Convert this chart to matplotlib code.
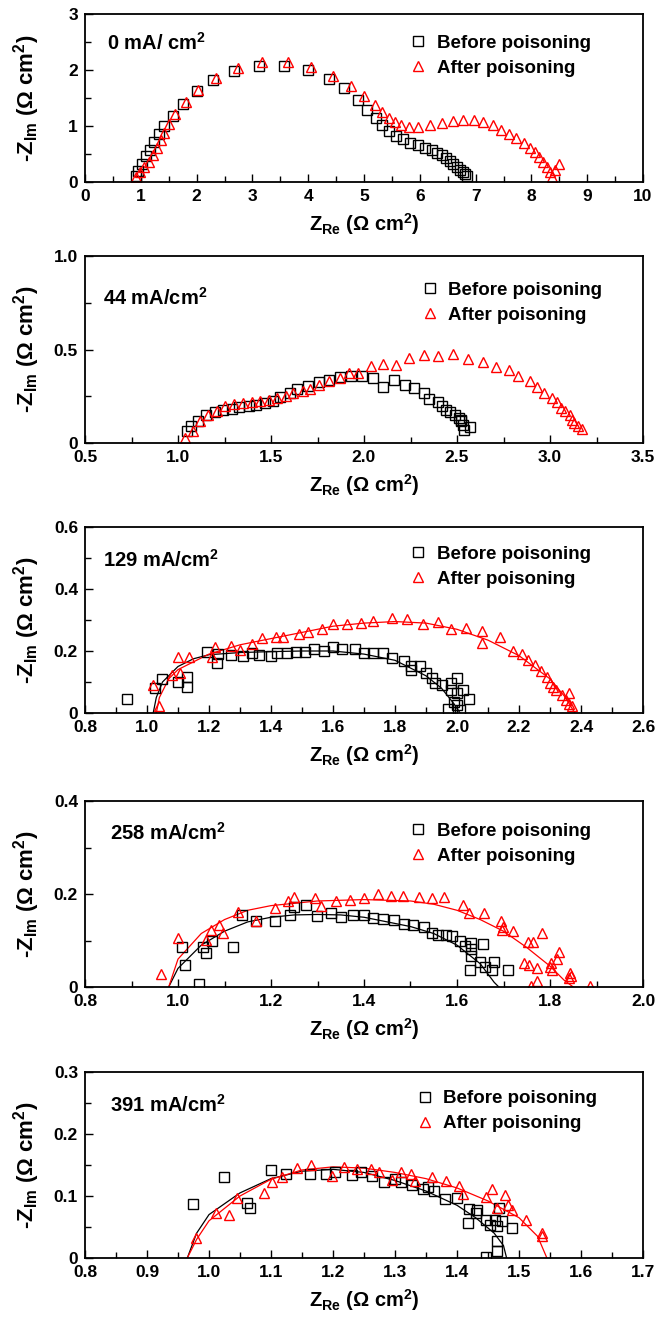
import matplotlib
matplotlib.use('Agg')
import matplotlib.pyplot as plt
from matplotlib.ticker import MultipleLocator

plt.rcParams['font.family'] = ['Liberation Sans', 'DejaVu Sans']
plt.rcParams['font.weight'] = 'bold'
plt.rcParams['mathtext.default'] = 'regular'

# ---- panel 1 : 0 mA/cm2 ----
p1_before_x = [0.91, 0.95, 1.02, 1.10, 1.16, 1.23, 1.32, 1.42, 1.57, 1.75, 2.00, 2.30, 2.67, 3.12, 3.57,
               4.00, 4.37, 4.65, 4.90, 5.06, 5.21, 5.33, 5.44, 5.57, 5.70, 5.83, 5.96, 6.10, 6.21, 6.31,
               6.39, 6.47, 6.54, 6.60, 6.67, 6.72, 6.77, 6.81, 6.84]
p1_before_y = [0.11, 0.20, 0.33, 0.46, 0.57, 0.72, 0.85, 1.00, 1.17, 1.40, 1.63, 1.82, 1.99, 2.08, 2.08,
               2.00, 1.84, 1.67, 1.46, 1.29, 1.15, 1.01, 0.91, 0.82, 0.76, 0.70, 0.66, 0.61, 0.57, 0.52,
               0.48, 0.43, 0.38, 0.32, 0.27, 0.22, 0.18, 0.14, 0.11]
p1_after_x = [0.91, 0.99, 1.06, 1.14, 1.21, 1.29, 1.36, 1.42, 1.50, 1.62, 1.81, 2.03, 2.35, 2.74, 3.18, 3.63,
              4.05, 4.44, 4.76, 5.00, 5.19, 5.33, 5.44, 5.55, 5.66, 5.81, 5.96, 6.19, 6.39, 6.60, 6.78,
              6.97, 7.14, 7.31, 7.46, 7.59, 7.73, 7.87, 7.97, 8.06, 8.13, 8.21, 8.28, 8.34, 8.37, 8.43, 8.49]
p1_after_y = [0.09, 0.18, 0.27, 0.36, 0.48, 0.61, 0.75, 0.88, 1.03, 1.22, 1.42, 1.65, 1.85, 2.03, 2.14, 2.15,
              2.06, 1.90, 1.71, 1.54, 1.37, 1.25, 1.14, 1.07, 1.01, 0.98, 0.98, 1.01, 1.06, 1.09, 1.10,
              1.10, 1.07, 1.01, 0.92, 0.85, 0.78, 0.69, 0.61, 0.54, 0.45, 0.36, 0.27, 0.18, 0.09, 0.22, 0.32]

# ---- panel 2 : 44 mA/cm2 ----
p2_before_x = [1.046, 1.07, 1.11, 1.15, 1.20, 1.24, 1.29, 1.33, 1.38, 1.42, 1.47, 1.51, 1.55, 1.60, 1.64,
               1.70, 1.76, 1.81, 1.87, 1.93, 1.99, 2.05, 2.10, 2.16, 2.22, 2.27, 2.32, 2.35, 2.40, 2.42,
               2.44, 2.46, 2.49, 2.51, 2.52, 2.53, 2.54, 2.57, 2.52]
p2_before_y = [0.062, 0.089, 0.116, 0.151, 0.164, 0.174, 0.181, 0.190, 0.196, 0.205, 0.214, 0.226, 0.244,
               0.270, 0.288, 0.306, 0.324, 0.338, 0.352, 0.359, 0.356, 0.347, 0.302, 0.338, 0.308, 0.294,
               0.267, 0.237, 0.217, 0.196, 0.178, 0.164, 0.151, 0.133, 0.116, 0.098, 0.071, 0.085, 0.125]
p2_after_x = [1.04, 1.08, 1.12, 1.16, 1.21, 1.25, 1.30, 1.35, 1.40, 1.44, 1.49, 1.53, 1.58, 1.62, 1.67,
              1.71, 1.76, 1.81, 1.87, 1.92, 1.97, 2.04, 2.10, 2.17, 2.24, 2.32, 2.40, 2.48, 2.56, 2.64,
              2.71, 2.78, 2.83, 2.89, 2.93, 2.97, 3.01, 3.04, 3.06, 3.08, 3.11, 3.12, 3.13, 3.15, 3.17]
p2_after_y = [0.027, 0.062, 0.116, 0.151, 0.169, 0.196, 0.210, 0.214, 0.217, 0.222, 0.231, 0.240, 0.253,
              0.267, 0.276, 0.288, 0.311, 0.329, 0.347, 0.374, 0.377, 0.413, 0.423, 0.418, 0.454, 0.472,
              0.466, 0.477, 0.450, 0.431, 0.409, 0.388, 0.356, 0.329, 0.302, 0.270, 0.240, 0.217, 0.187,
              0.169, 0.151, 0.125, 0.107, 0.089, 0.075]

# ---- panel 3 : 129 mA/cm2 ----
p3_before_x = [0.935, 1.025, 1.048, 1.10, 1.13, 1.13, 1.195, 1.227, 1.23, 1.27, 1.31, 1.34, 1.36, 1.40,
               1.42, 1.45, 1.48, 1.51, 1.54, 1.57, 1.60, 1.63, 1.67, 1.70, 1.73, 1.76, 1.79, 1.83, 1.85,
               1.85, 1.88, 1.90, 1.92, 1.93, 1.95, 1.98, 2.00, 1.98, 2.00, 2.02, 2.04, 1.99, 2.00, 1.97, 2.01]
p3_before_y = [0.046, 0.080, 0.109, 0.100, 0.115, 0.085, 0.197, 0.160, 0.190, 0.187, 0.184, 0.194, 0.187,
               0.184, 0.194, 0.195, 0.197, 0.197, 0.208, 0.200, 0.213, 0.208, 0.207, 0.192, 0.192, 0.192,
               0.178, 0.168, 0.153, 0.139, 0.152, 0.128, 0.112, 0.096, 0.091, 0.098, 0.112, 0.075, 0.064,
               0.075, 0.046, 0.037, 0.027, 0.014, 0.011]
p3_after_x = [1.02, 1.04, 1.08, 1.106, 1.10, 1.137, 1.21, 1.22, 1.27, 1.30, 1.34, 1.37, 1.415, 1.44, 1.49,
              1.52, 1.565, 1.60, 1.645, 1.69, 1.73, 1.79, 1.84, 1.89, 1.94, 1.98, 2.03, 2.08, 2.08, 2.14,
              2.18, 2.21, 2.23, 2.25, 2.27, 2.29, 2.30, 2.31, 2.32, 2.34, 2.36, 2.35, 2.36, 2.37]
p3_after_y = [0.091, 0.021, 0.123, 0.128, 0.181, 0.181, 0.181, 0.213, 0.217, 0.203, 0.222, 0.242, 0.246,
              0.246, 0.254, 0.262, 0.272, 0.286, 0.286, 0.290, 0.297, 0.306, 0.304, 0.286, 0.294, 0.272,
              0.275, 0.265, 0.226, 0.246, 0.200, 0.190, 0.171, 0.155, 0.137, 0.117, 0.098, 0.085, 0.075,
              0.059, 0.064, 0.043, 0.030, 0.023]
p3_fit_before_x = [1.02, 1.03, 1.05, 1.10, 1.15, 1.20, 1.30, 1.40, 1.50, 1.60, 1.70, 1.80, 1.90, 1.95, 1.99, 2.01]
p3_fit_before_y = [0.0, 0.05, 0.10, 0.15, 0.175, 0.188, 0.195, 0.198, 0.200, 0.200, 0.190, 0.170, 0.120, 0.080, 0.030, 0.0]
p3_fit_after_x = [1.03, 1.04, 1.07, 1.10, 1.20, 1.30, 1.40, 1.50, 1.60, 1.70, 1.80, 1.90, 2.00, 2.10, 2.20, 2.30, 2.35, 2.38]
p3_fit_after_y = [0.0, 0.05, 0.11, 0.14, 0.19, 0.22, 0.24, 0.26, 0.28, 0.29, 0.295, 0.29, 0.27, 0.235, 0.185, 0.11, 0.05, 0.0]

# ---- panel 4 : 258 mA/cm2 ----
p4_before_x = [1.009, 1.016, 1.045, 1.053, 1.06, 1.074, 1.119, 1.137, 1.168, 1.209, 1.24, 1.25, 1.276, 1.30,
               1.33, 1.35, 1.376, 1.40, 1.42, 1.44, 1.465, 1.485, 1.506, 1.528, 1.546, 1.56, 1.577, 1.59,
               1.607, 1.618, 1.63, 1.63, 1.656, 1.627, 1.63, 1.65, 1.66, 1.676, 1.68, 1.71]
p4_before_y = [0.086, 0.048, 0.007, 0.087, 0.074, 0.100, 0.086, 0.155, 0.141, 0.141, 0.154, 0.171, 0.176,
               0.153, 0.159, 0.151, 0.154, 0.154, 0.149, 0.146, 0.144, 0.135, 0.133, 0.130, 0.117, 0.112,
               0.112, 0.109, 0.098, 0.089, 0.082, 0.094, 0.093, 0.037, 0.067, 0.053, 0.044, 0.037, 0.054, 0.037]
p4_after_x = [0.964, 1.00, 1.06, 1.07, 1.088, 1.097, 1.13, 1.168, 1.209, 1.236, 1.249, 1.294, 1.307, 1.34,
              1.37, 1.40, 1.43, 1.459, 1.483, 1.519, 1.546, 1.571, 1.613, 1.625, 1.658, 1.694, 1.697, 1.70,
              1.72, 1.753, 1.764, 1.744, 1.754, 1.772, 1.782, 1.773, 1.76, 1.802, 1.805, 1.80, 1.82, 1.815,
              1.843, 1.845, 1.84, 1.886]
p4_after_y = [0.029, 0.105, 0.101, 0.123, 0.134, 0.116, 0.161, 0.143, 0.169, 0.185, 0.194, 0.192, 0.175,
              0.185, 0.187, 0.192, 0.200, 0.196, 0.196, 0.194, 0.191, 0.193, 0.176, 0.159, 0.159, 0.141,
              0.123, 0.130, 0.121, 0.096, 0.096, 0.051, 0.048, 0.041, 0.116, 0.012, 0.003, 0.051, 0.036,
              0.044, 0.076, 0.060, 0.031, 0.023, 0.019, 0.003]
p4_fit_before_x = [0.98, 1.00, 1.05, 1.10, 1.15, 1.20, 1.25, 1.30, 1.35, 1.40, 1.45, 1.50, 1.55, 1.60, 1.65, 1.68, 1.69]
p4_fit_before_y = [0.0, 0.04, 0.09, 0.12, 0.14, 0.15, 0.155, 0.156, 0.155, 0.15, 0.14, 0.13, 0.115, 0.09, 0.05, 0.01, 0.0]
p4_fit_after_x = [0.98, 1.00, 1.05, 1.10, 1.15, 1.20, 1.30, 1.40, 1.50, 1.55, 1.60, 1.65, 1.70, 1.75, 1.80, 1.83, 1.85]
p4_fit_after_y = [0.0, 0.06, 0.115, 0.145, 0.165, 0.175, 0.185, 0.188, 0.185, 0.178, 0.165, 0.145, 0.12, 0.085, 0.045, 0.015, 0.0]

# ---- panel 5 : 391 mA/cm2 ----
p5_before_x = [0.975, 1.024, 1.062, 1.066, 1.10, 1.124, 1.163, 1.188, 1.203, 1.23, 1.245, 1.263, 1.282, 1.30,
               1.31, 1.327, 1.345, 1.354, 1.363, 1.38, 1.40, 1.42, 1.43, 1.432, 1.417, 1.447, 1.453, 1.461,
               1.464, 1.473, 1.488, 1.464, 1.464, 1.447, 1.467]
p5_before_y = [0.087, 0.130, 0.088, 0.080, 0.142, 0.135, 0.135, 0.135, 0.139, 0.134, 0.138, 0.132, 0.123,
               0.127, 0.123, 0.117, 0.111, 0.115, 0.108, 0.095, 0.097, 0.079, 0.073, 0.078, 0.056, 0.062,
               0.054, 0.062, 0.051, 0.059, 0.048, 0.027, 0.011, 0.002, 0.080]
p5_after_x = [0.979, 1.012, 1.033, 1.045, 1.089, 1.101, 1.118, 1.142, 1.164, 1.198, 1.217, 1.238, 1.262, 1.275,
              1.295, 1.31, 1.326, 1.333, 1.36, 1.383, 1.403, 1.41, 1.447, 1.457, 1.464, 1.477, 1.482, 1.489,
              1.511, 1.537, 1.537]
p5_after_y = [0.032, 0.072, 0.070, 0.096, 0.105, 0.122, 0.130, 0.145, 0.150, 0.132, 0.146, 0.144, 0.143,
              0.138, 0.126, 0.138, 0.135, 0.124, 0.131, 0.124, 0.116, 0.103, 0.099, 0.111, 0.080, 0.102,
              0.085, 0.077, 0.062, 0.040, 0.035]
p5_fit_before_x = [0.965, 0.98, 1.00, 1.05, 1.10, 1.15, 1.20, 1.25, 1.30, 1.35, 1.40, 1.43, 1.46, 1.475, 1.48]
p5_fit_before_y = [0.0, 0.04, 0.07, 0.105, 0.128, 0.14, 0.143, 0.138, 0.125, 0.108, 0.085, 0.065, 0.04, 0.02, 0.0]
p5_fit_after_x = [0.965, 0.98, 1.00, 1.05, 1.10, 1.15, 1.20, 1.25, 1.30, 1.35, 1.40, 1.45, 1.50, 1.53, 1.545]
p5_fit_after_y = [0.0, 0.03, 0.06, 0.10, 0.127, 0.142, 0.147, 0.145, 0.138, 0.128, 0.113, 0.092, 0.065, 0.035, 0.0]

panels = [
    dict(label='0 mA/ cm$^2$', before=(p1_before_x, p1_before_y), after=(p1_after_x, p1_after_y), fits=None,
         xlim=(0, 10), ylim=(0, 3), xmaj=1, xmin=0.5, ymaj=1, ymin=0.5, xfmt='{:.0f}', yfmt='{:.0f}',
         rect=(14, 182), lab=(0.039, 0.827), leg=(0.584, 0.753)),
    dict(label='44 mA/cm$^2$', before=(p2_before_x, p2_before_y), after=(p2_after_x, p2_after_y), fits=None,
         xlim=(0.5, 3.5), ylim=(0, 1.0), xmaj=0.5, xmin=0.25, ymaj=0.5, ymin=0.25, xfmt='{:.1f}', yfmt='{:.1f}',
         rect=(256, 443), lab=(0.032, 0.775), leg=(0.604, 0.749)),
    dict(label='129 mA/cm$^2$', before=(p3_before_x, p3_before_y), after=(p3_after_x, p3_after_y),
         fits=((p3_fit_before_x, p3_fit_before_y), (p3_fit_after_x, p3_fit_after_y)),
         xlim=(0.8, 2.6), ylim=(0, 0.6), xmaj=0.2, xmin=0.1, ymaj=0.2, ymin=0.1, xfmt='{:.1f}', yfmt='{:.1f}',
         rect=(527, 713), lab=(0.032, 0.823), leg=(0.584, 0.785)),
    dict(label='258 mA/cm$^2$', before=(p4_before_x, p4_before_y), after=(p4_after_x, p4_after_y),
         fits=((p4_fit_before_x, p4_fit_before_y), (p4_fit_after_x, p4_fit_after_y)),
         xlim=(0.8, 2.0), ylim=(0, 0.4), xmaj=0.2, xmin=0.1, ymaj=0.2, ymin=0.1, xfmt='{:.1f}', yfmt='{:.1f}',
         rect=(801, 987), lab=(0.045, 0.828), leg=(0.584, 0.769)),
    dict(label='391 mA/cm$^2$', before=(p5_before_x, p5_before_y), after=(p5_after_x, p5_after_y),
         fits=((p5_fit_before_x, p5_fit_before_y), (p5_fit_after_x, p5_fit_after_y)),
         xlim=(0.8, 1.7), ylim=(0, 0.3), xmaj=0.1, xmin=0.05, ymaj=0.1, ymin=0.05, xfmt='{:.1f}', yfmt='{:.1f}',
         rect=(1072, 1258), lab=(0.045, 0.823), leg=(0.595, 0.790)),
]

W, H = 656, 1320
fig = plt.figure(figsize=(W / 100, H / 100), dpi=100)

for p in panels:
    top, bot = p['rect']
    ax = fig.add_axes([85 / W, 1 - bot / H, 558 / W, (bot - top) / H])
    bx, by = p['before']
    axx, ayy = p['after']
    if p['fits'] is not None:
        (fbx, fby), (fax, fay) = p['fits']
        ax.plot(fbx, fby, color='black', lw=0.9)
        ax.plot(fax, fay, color='red', lw=0.9)
    ax.plot(bx, by, ls='none', marker='s', ms=6.5, mfc='none', mec='black', mew=1.0,
            label='Before poisoning')
    ax.plot(axx, ayy, ls='none', marker='^', ms=7.5, mfc='none', mec='red', mew=1.0,
            label='After poisoning')
    ax.set_xlim(*p['xlim'])
    ax.set_ylim(*p['ylim'])
    ax.xaxis.set_major_locator(MultipleLocator(p['xmaj']))
    ax.xaxis.set_minor_locator(MultipleLocator(p['xmin']))
    ax.yaxis.set_major_locator(MultipleLocator(p['ymaj']))
    ax.yaxis.set_minor_locator(MultipleLocator(p['ymin']))
    xf, yf = p['xfmt'], p['yfmt']
    ax.xaxis.set_major_formatter(plt.FuncFormatter(lambda v, pos, f=xf: f.format(v)))
    ax.yaxis.set_major_formatter(plt.FuncFormatter(lambda v, pos, f=yf: '0' if abs(v) < 1e-9 else f.format(v)))
    ax.tick_params(which='both', direction='in', top=False, right=False, labelsize=12.5, width=1.0)
    ax.tick_params(which='major', length=6, pad=5)
    ax.tick_params(which='minor', length=4)
    for s in ax.spines.values():
        s.set_linewidth(1.3)
    ax.set_xlabel('Z$_{Re}$ (Ω cm$^2$)', fontsize=14.5, fontweight='bold', labelpad=5)
    ax.set_ylabel('-Z$_{Im}$ (Ω cm$^2$)', fontsize=16, fontweight='bold')
    ax.yaxis.set_label_coords(-0.077, 0.5)
    ax.text(p['lab'][0], p['lab'][1], p['label'], transform=ax.transAxes, fontsize=14.5,
            fontweight='bold', va='center', ha='left')
    ax.legend(loc='center left', bbox_to_anchor=p['leg'], frameon=False, fontsize=13.5,
              handlelength=0.8, handletextpad=0.6, labelspacing=0.42, borderpad=0, borderaxespad=0)

fig.savefig('out.png', dpi=100)
